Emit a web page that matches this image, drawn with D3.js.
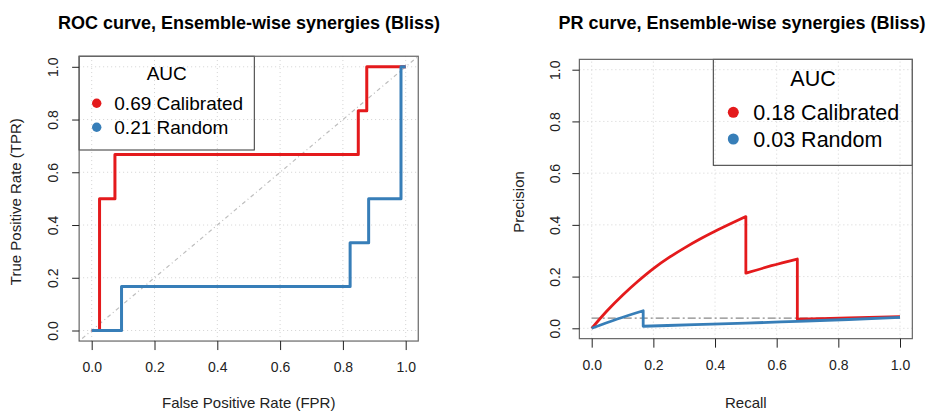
<!DOCTYPE html>
<html>
<head>
<meta charset="utf-8">
<script src="https://cdn.jsdelivr.net/npm/d3@7"></script>
<style>
  html, body { margin: 0; padding: 0; background: #fff; }
  svg { display: block; font-family: "Liberation Sans", Arial, Helvetica, sans-serif; }
</style>
</head>
<body>
<svg id="chart" width="928" height="412"></svg>
<script>
// ---------- data ----------
const tickValues = [0, 0.2, 0.4, 0.6, 0.8, 1.0];
const tickLabels = ["0.0", "0.2", "0.4", "0.6", "0.8", "1.0"];
const seriesNames = ["Calibrated", "Random"];
const seriesColors = ["#E41A1C", "#377EB8"];
const rocAUC = [0.69, 0.21];
const prAUC = [0.18, 0.03];

// ROC step points (FPR, TPR), drawn with step-after
const rocCalFPR = [0, 0.025, 0.074, 0.849, 0.876, 1.0];
const rocCalTPR = [0, 0.5, 0.667, 0.833, 1.0, 1.0];
const rocRndFPR = [0, 0.095, 0.823, 0.882, 0.985, 1.0];
const rocRndTPR = [0, 0.167, 0.333, 0.5, 1.0, 1.0];

// PR curves (Recall, Precision)
const prCalRecall    = [0, 0.05, 0.1, 0.15, 0.2, 0.25, 0.3, 0.35, 0.4, 0.45, 0.5, 0.5, 0.583, 0.667, 0.667, 0.833, 1.0];
const prCalPrecision = [0, 0.068, 0.128, 0.182, 0.231, 0.273, 0.31, 0.344, 0.375, 0.404, 0.432, 0.213, 0.242, 0.268, 0.035, 0.040, 0.045];
const prRndRecall    = [0, 0.083, 0.167, 0.167, 0.333, 0.5, 0.667, 0.833, 1.0];
const prRndPrecision = [0, 0.036, 0.068, 0.008, 0.014, 0.020, 0.027, 0.034, 0.042];
const prBaseline = 0.039;

const titles = ["ROC curve, Ensemble-wise synergies (Bliss)", "PR curve, Ensemble-wise synergies (Bliss)"];
const xTitles = ["False Positive Rate (FPR)", "Recall"];
const yTitles = ["True Positive Rate (TPR)", "Precision"];

// ---------- drawing ----------
const svg = d3.select("#chart");
svg.append("rect").attr("width", 928).attr("height", 412).attr("fill", "#fff");

// smooth path that keeps vertical drops sharp: split where recall repeats
function smoothWithDrops(pts, x, y) {
  const segs = [];
  let cur = [pts[0]];
  for (let k = 1; k < pts.length; k++) {
    if (pts[k][0] === pts[k - 1][0]) { segs.push(cur); cur = [pts[k]]; }
    else cur.push(pts[k]);
  }
  segs.push(cur);
  const gen = d3.line().x(d => x(d[0])).y(d => y(d[1])).curve(d3.curveMonotoneX);
  return segs.map((s, i) => {
    const d = s.length > 1 ? gen(s) : `M${x(s[0][0])},${y(s[0][1])}`;
    return i === 0 ? d : "L" + d.slice(1);
  }).join("");
}

function panel(cfg) {
  const x = d3.scaleLinear().domain([0, 1]).range(cfg.xr);
  const y = d3.scaleLinear().domain([0, 1]).range(cfg.yr);
  const x0 = x(-0.04), x1 = x(1.04), y0 = y(-0.04), y1 = y(1.04);
  const g = svg.append("g");

  // grid
  const grid = g.append("g").attr("stroke", "#D3D3D3").attr("stroke-width", 1).attr("stroke-dasharray", "1,3");
  grid.selectAll("line.v").data(tickValues).join("line")
    .attr("x1", d => x(d)).attr("x2", d => x(d)).attr("y1", y0).attr("y2", y1);
  grid.selectAll("line.h").data(tickValues).join("line")
    .attr("y1", d => y(d)).attr("y2", d => y(d)).attr("x1", x0).attr("x2", x1);

  cfg.reference(g, x, y, x0, x1, y0, y1);

  // curves
  cfg.series.forEach((s, i) => {
    const pts = s.xs.map((v, k) => [v, s.ys[k]]);
    const d = cfg.smooth ? smoothWithDrops(pts, x, y)
      : d3.line().x(p => x(p[0])).y(p => y(p[1])).curve(d3.curveStepAfter)(pts);
    g.append("path").attr("d", d)
      .attr("fill", "none").attr("stroke", seriesColors[i]).attr("stroke-width", cfg.lw)
      .attr("stroke-linejoin", "round");
  });

  // legend
  const L = cfg.legend;
  g.append("rect").attr("x", L.x).attr("y", y1).attr("width", L.w).attr("height", L.h - y1)
    .attr("fill", "none").attr("stroke", "#333").attr("stroke-width", 1);
  g.append("text").attr("x", L.titleX).attr("y", L.titleY).attr("text-anchor", "middle")
    .attr("font-size", L.fs).attr("fill", "#000").text("AUC");
  seriesNames.forEach((n, i) => {
    g.append("circle").attr("cx", L.dotX).attr("cy", L.rowY[i]).attr("r", L.r).attr("fill", seriesColors[i]);
    g.append("text").attr("x", L.textX).attr("y", L.rowY[i]).attr("dy", "0.35em")
      .attr("font-size", L.fs).attr("fill", "#000")
      .text(cfg.auc[i].toFixed(2) + " " + n);
  });

  // box
  g.append("rect").attr("x", x0).attr("y", y1).attr("width", x1 - x0).attr("height", y0 - y1)
    .attr("fill", "none").attr("stroke", "#666").attr("stroke-width", 1.2);

  // x axis
  const xa = g.append("g").attr("transform", `translate(0,${y0})`)
    .call(d3.axisBottom(x).tickValues(tickValues).tickFormat((d, i) => tickLabels[i]).tickSize(9).tickPadding(12));
  xa.select(".domain").remove();
  xa.selectAll("line").attr("stroke", "#222");
  xa.selectAll("text").attr("font-size", 14).attr("fill", "#222").attr("font-family", null);

  // y axis
  const ya = g.append("g").attr("transform", `translate(${x0},0)`)
    .call(d3.axisLeft(y).tickValues(tickValues).tickFormat((d, i) => tickLabels[i]).tickSize(7));
  ya.select(".domain").remove();
  ya.selectAll("line").attr("stroke", "#222");
  ya.selectAll("text").attr("font-size", 14).attr("fill", "#222").attr("font-family", null)
    .attr("transform", "rotate(-90)").attr("x", 0).attr("y", -cfg.yLabOff).attr("dy", 0)
    .attr("text-anchor", "middle");

  // titles
  svg.append("text").attr("x", cfg.titleX).attr("y", 29).attr("text-anchor", "middle")
    .attr("font-size", 18).attr("font-weight", "bold").attr("fill", "#000").text(cfg.title);
  svg.append("text").attr("x", (x0 + x1) / 2).attr("y", 408).attr("text-anchor", "middle")
    .attr("font-size", 15).attr("fill", "#222").text(cfg.xTitle);
  svg.append("text").attr("transform", `translate(${cfg.yTitleX},${(y0 + y1) / 2 + 3}) rotate(-90)`)
    .attr("text-anchor", "middle").attr("font-size", 15).attr("fill", "#222").text(cfg.yTitle);
}

// ROC panel
panel({
  xr: [91.7, 405.7], yr: [330.5, 66.8], lw: 3, smooth: false,
  series: [{ xs: rocCalFPR, ys: rocCalTPR }, { xs: rocRndFPR, ys: rocRndTPR }],
  auc: rocAUC,
  reference: (g, x, y, x0, x1, y0, y1) => {
    g.append("line").attr("x1", x0).attr("y1", y0).attr("x2", x1).attr("y2", y1)
      .attr("stroke", "#BEBEBE").attr("stroke-width", 1.2).attr("stroke-dasharray", "1,3,4,3");
  },
  legend: { x: 79.1, w: 175.2, h: 150, titleX: 166.7, titleY: 80, fs: 19, r: 4.7, dotX: 96.7, textX: 114.3, rowY: [103.3, 127.3] },
  title: titles[0], titleX: 249, xTitle: xTitles[0], yTitle: yTitles[0], yTitleX: 21, yLabOff: 20.7
});

// PR panel
panel({
  xr: [591.7, 900], yr: [328.3, 69.7], lw: 2.8, smooth: true,
  series: [{ xs: prCalRecall, ys: prCalPrecision }, { xs: prRndRecall, ys: prRndPrecision }],
  auc: prAUC,
  reference: (g, x, y) => {
    g.append("line").attr("x1", x(0)).attr("x2", x(1)).attr("y1", y(prBaseline)).attr("y2", y(prBaseline))
      .attr("stroke", "#888").attr("stroke-width", 1.2).attr("stroke-dasharray", "8,3,2,3");
  },
  legend: { x: 713.3, w: 912.3 - 713.3, h: 165.3, titleX: 813, titleY: 85.8, fs: 21.5, r: 5.5, dotX: 733.3, textX: 753.3, rowY: [112.3, 139] },
  title: titles[1], titleX: 742, xTitle: xTitles[1], yTitle: yTitles[1], yTitleX: 524, yLabOff: 19.5
});
</script>
</body>
</html>
